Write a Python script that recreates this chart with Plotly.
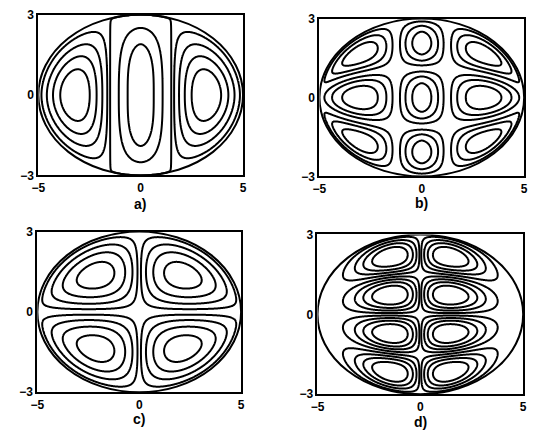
import numpy as np
import plotly.graph_objects as go

# ellipse semi-axes
A, B = 5, 3

panel_labels = ['a)', 'b)', 'c)', 'd)']
modes_x = [3, 3, 2, 2]        # lobes along x
modes_y = [1, 3, 2, 4]        # lobes along y
warp_x = [0.91, 0.79, 0.80, 0.80]
warp_y_mid = [1.7, 1.1, 1.0, 1.0]
warp_y_edge = [1.0, 1.1, 1.0, 1.0]
damp_x = [0, 0, 0, 2.5]
levels_pos = [[0.002, 0.4, 0.75], [0.18, 0.45, 0.75],
              [0.12, 0.35, 0.6, 0.85], [0.1, 0.3, 0.5, 0.72]]
levels_neg = [[0.13, 0.35, 0.58, 0.8], [0.18, 0.45, 0.75],
              [0.12, 0.35, 0.6, 0.85], [0.1, 0.3, 0.5, 0.72]]
x_ticks = [-5, 0, 5]
y_ticks = [-3, 0, 3]

W, H = 535, 437
# panel boxes in pixels: left, right, top, bottom
boxes = [(32, 241, 8, 174), (319, 528, 12, 175), (31, 239, 232, 398), (317, 527, 235, 400)]
label_pos = [(136, 204), (423, 203), (135, 426), (422, 429)]

x = np.linspace(-A, A, 401)
y = np.linspace(-B, B, 261)
X, Y = np.meshgrid(x, y)
inside = (X / A) ** 2 + (Y / B) ** 2 < 1
u = X / A
v = np.clip(Y / (B * np.sqrt(np.clip(1 - u ** 2, 1e-9, None))), -1, 1)


def profile(m, w):
    return np.cos(m * np.pi * w / 2) if m % 2 else np.sin(m * np.pi * w / 2)


def warp(s, q):
    return np.sign(s) * np.abs(s) ** q


fig = go.Figure()
layout = {}
shapes = []
annotations = []
tfont = dict(family='Liberation Sans, Arial', size=12, color='black', weight='bold')

for i in range(4):
    qy = warp_y_edge[i] + (warp_y_mid[i] - warp_y_edge[i]) * np.exp(-(u / 0.3) ** 2)
    z = (profile(modes_x[i], warp(u, warp_x[i])) * (1 - u ** 2) ** damp_x[i]
         * profile(modes_y[i], warp(v, qy)))
    z = np.where(inside, z, 0.0)
    z = z / np.abs(z).max()
    sfx = '' if i == 0 else str(i + 1)
    xa, ya = 'x' + sfx, 'y' + sfx
    levels = list(levels_pos[i]) + [-L for L in levels_neg[i]]
    for L in levels:
        fig.add_trace(go.Contour(
            x=x, y=y, z=z, xaxis=xa, yaxis=ya, autocontour=False,
            contours=dict(start=L, end=L, size=1, coloring='none'),
            line=dict(color='black', width=2, smoothing=1),
            showscale=False, hoverinfo='skip'))
    l, r, t, b = boxes[i]
    layout['xaxis' + sfx] = dict(domain=[l / W, r / W], range=[-A, A], anchor=ya,
                                 tickvals=x_ticks, showline=True, mirror=True,
                                 linecolor='black', linewidth=2, showgrid=False,
                                 zeroline=False, ticks='', tickfont=tfont)
    layout['yaxis' + sfx] = dict(domain=[1 - b / H, 1 - t / H], range=[-B, B], anchor=xa,
                                 tickvals=y_ticks, showline=True, mirror=True,
                                 linecolor='black', linewidth=2, showgrid=False,
                                 zeroline=False, ticks='', tickfont=tfont)
    shapes.append(dict(type='circle', xref=xa, yref=ya, x0=-A, x1=A, y0=-B, y1=B,
                       line=dict(color='black', width=2)))
    lx, ly = label_pos[i]
    annotations.append(dict(x=lx / W, y=1 - ly / H, xref='paper', yref='paper',
                            xanchor='center', yanchor='middle',
                            text=panel_labels[i], showarrow=False,
                            font=dict(family='Liberation Sans, Arial', size=14,
                                      color='black', weight='bold')))

fig.update_layout(**layout)
fig.update_layout(width=W, height=H, margin=dict(l=0, r=0, t=0, b=0),
                  paper_bgcolor='white', plot_bgcolor='white', showlegend=False,
                  shapes=shapes, annotations=annotations)
# drop the browser's default body margin so the figure starts at the window corner
fig.write_html("out.html", config={'displayModeBar': False},
               post_script="document.body.style.margin='0';")
